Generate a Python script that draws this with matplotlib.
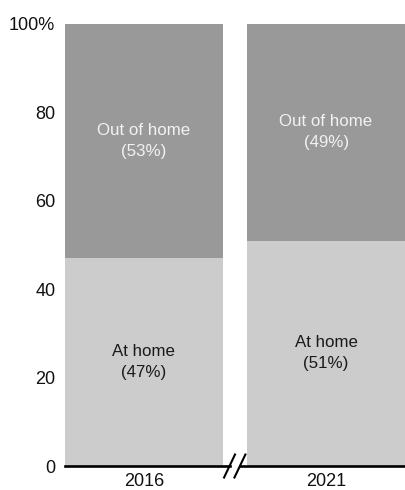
import matplotlib
matplotlib.use("Agg")
import matplotlib.pyplot as plt
from matplotlib.lines import Line2D

years = ["2016", "2021"]
at_home = [47, 51]
out_of_home = [53, 49]
ytick_labels = ["0", "20", "40", "60", "80", "100%"]

plt.rcParams['font.family'] = ['Liberation Sans', 'DejaVu Sans']

fig = plt.figure(figsize=(4.05, 4.9), dpi=100)
ax = fig.add_axes([65/405, 24/490, 340/405, 442/490])

w = 0.866
x = list(range(len(years)))
c_home = "#cccccc"
c_out = "#999999"
ax.bar(x, at_home, width=w, color=c_home)
ax.bar(x, out_of_home, width=w, bottom=at_home, color=c_out)

for i in x:
    ax.text(i, at_home[i] / 2, f"At home\n({at_home[i]}%)", ha="center", va="center",
            fontsize=12.2, color="#1a1a1a", linespacing=1.5)
    ax.text(i, at_home[i] + out_of_home[i] / 2, f"Out of home\n({out_of_home[i]}%)",
            ha="center", va="center", fontsize=12.2, color="#f2f2f2", linespacing=1.5)

ax.set_xlim(-w/2, 1 + w/2)
ax.set_ylim(0, 100)
ax.set_yticks([0, 20, 40, 60, 80, 100])
ax.set_yticklabels(ytick_labels)
ax.set_xticks(x)
ax.set_xticklabels(years)
ax.tick_params(axis="both", length=0, labelsize=13, colors="#111111")
ax.tick_params(axis="y", pad=7)
ax.tick_params(axis="x", pad=5)

for s in ["top", "right", "left", "bottom"]:
    ax.spines[s].set_visible(False)

# bottom axis line with break
lw = 1.9
ax.add_line(Line2D([-w/2, 0.470], [0, 0], color="black", lw=lw, clip_on=False))
ax.add_line(Line2D([0.527, 1 + w/2], [0, 0], color="black", lw=lw, clip_on=False))
for cx in (0.470, 0.527):
    ax.add_line(Line2D([cx - 0.030, cx + 0.030], [-2.6, 2.6], color="black", lw=1.5,
                       clip_on=False))

fig.savefig("out.png", dpi=100)
